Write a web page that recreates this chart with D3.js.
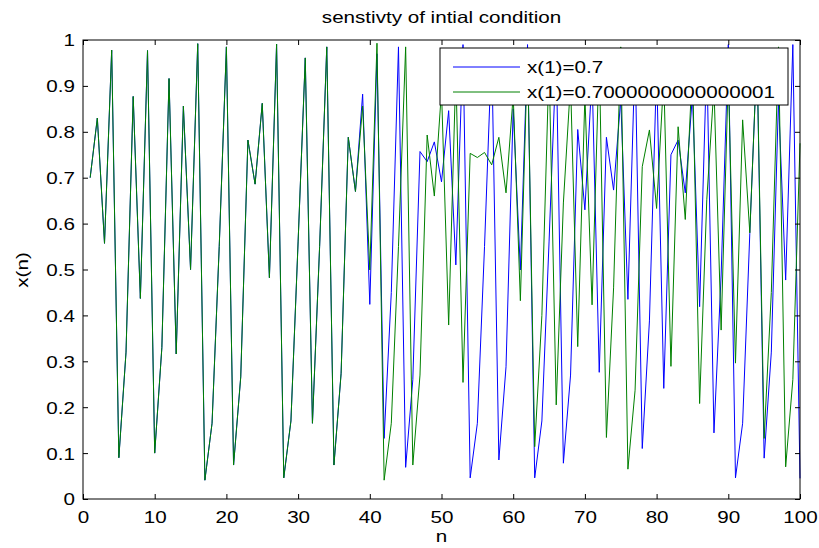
<!DOCTYPE html>
<html>
<head>
<meta charset="utf-8">
<script src="https://cdn.jsdelivr.net/npm/d3@7"></script>
<style>
  html, body { margin: 0; padding: 0; background: #fff; }
  svg text { font-family: "Liberation Sans", Arial, Helvetica, sans-serif; font-size: 16.5px; fill: #000; }
</style>
</head>
<body>
<svg id="chart" width="819" height="548"></svg>
<script>
// values, n = 1..100
const seriesA = [
  0.70, 0.83, 0.557, 0.978, 0.090, 0.32, 0.877, 0.437, 0.977, 0.100,
  0.33, 0.916, 0.316, 0.856, 0.500, 0.992, 0.041, 0.165, 0.55, 0.985,
  0.074, 0.266, 0.782, 0.686, 0.862, 0.482, 0.991, 0.046, 0.17, 0.56,
  0.961, 0.165, 0.55, 0.985, 0.074, 0.274, 0.788, 0.670, 0.882, 0.424,
  0.97, 0.132, 0.45, 0.985, 0.069, 0.26, 0.757, 0.735, 0.778, 0.691,
  0.846, 0.510, 0.99, 0.046, 0.165, 0.55, 0.98, 0.085, 0.288, 0.85,
  0.499, 0.99, 0.046, 0.17, 0.56, 0.97, 0.078, 0.27, 0.805, 0.630,
  0.923, 0.276, 0.788, 0.673, 0.871, 0.435, 0.97, 0.110, 0.388, 0.94,
  0.241, 0.75, 0.782, 0.667, 0.88, 0.419, 0.964, 0.144, 0.488, 0.99,
  0.046, 0.165, 0.579, 0.97, 0.089, 0.32, 0.87, 0.477, 0.99, 0.045
];
const seriesB = [
  0.70, 0.83, 0.557, 0.978, 0.090, 0.32, 0.877, 0.437, 0.977, 0.100,
  0.33, 0.916, 0.316, 0.856, 0.500, 0.992, 0.041, 0.165, 0.55, 0.985,
  0.074, 0.266, 0.782, 0.686, 0.862, 0.482, 0.991, 0.046, 0.17, 0.56,
  0.961, 0.165, 0.55, 0.985, 0.074, 0.274, 0.788, 0.670, 0.856, 0.499,
  0.993, 0.041, 0.165, 0.55, 0.985, 0.074, 0.27, 0.793, 0.660, 0.89,
  0.379, 0.932, 0.254, 0.753, 0.744, 0.755, 0.728, 0.788, 0.667, 0.88,
  0.432, 0.972, 0.114, 0.40, 0.95, 0.205, 0.645, 0.907, 0.332, 0.878,
  0.423, 0.967, 0.134, 0.46, 0.985, 0.065, 0.237, 0.724, 0.804, 0.633,
  0.92, 0.289, 0.811, 0.609, 0.943, 0.208, 0.652, 0.898, 0.368, 0.921,
  0.296, 0.826, 0.58, 0.97, 0.132, 0.45, 0.985, 0.070, 0.26, 0.775
];
const seriesNames = ["x(1)=0.7", "x(1)=0.7000000000000001"];
const seriesColors = ["#0000ff", "#008000"];
const xTicks = [0, 10, 20, 30, 40, 50, 60, 70, 80, 90, 100];
const yTicks = [0, 0.1, 0.2, 0.3, 0.4, 0.5, 0.6, 0.7, 0.8, 0.9, 1];
const yTickLabels = ["0", "0.1", "0.2", "0.3", "0.4", "0.5", "0.6", "0.7", "0.8", "0.9", "1"];

const stretch = 1.25; // text in the picture is wider than its height suggests

const plotLeft = 83, plotRight = 800, plotTop = 40, plotBottom = 499;

const svg = d3.select("#chart");

const x = d3.scaleLinear().domain([0, 100]).range([plotLeft, plotRight]);
const y = d3.scaleLinear().domain([0, 1]).range([plotBottom, plotTop]);

// lines, blue first then green on top
const line = d3.line()
  .x((d, i) => x(i + 1))
  .y(d => y(d));

[seriesA, seriesB].forEach((s, k) => {
  svg.append("path")
    .datum(s)
    .attr("fill", "none")
    .attr("stroke", seriesColors[k])
    .attr("stroke-width", 1)
    .attr("d", line);
});

// axes, ticks pointing inwards on all four sides
const gx = svg.append("g")
  .attr("transform", `translate(0,${plotBottom})`)
  .call(d3.axisBottom(x).tickValues(xTicks).tickSize(-5).tickSizeOuter(0).tickPadding(10));
gx.selectAll("text").attr("y", 24).attr("dy", null)
  .attr("transform", `scale(${stretch},1)`);

const gy = svg.append("g")
  .attr("transform", `translate(${plotLeft},0)`)
  .call(d3.axisLeft(y).tickValues(yTicks).tickSize(-5).tickSizeOuter(0)
    .tickFormat((d, i) => yTickLabels[i]));
gy.selectAll("text").attr("x", -8 / stretch).attr("dy", "0.36em")
  .attr("transform", `scale(${stretch},1)`);

svg.append("g")
  .attr("transform", `translate(0,${plotTop})`)
  .call(d3.axisTop(x).tickValues(xTicks).tickSize(-5).tickSizeOuter(0).tickFormat(""));
svg.append("g")
  .attr("transform", `translate(${plotRight},0)`)
  .call(d3.axisRight(y).tickValues(yTicks).tickSize(-5).tickSizeOuter(0).tickFormat(""));

svg.selectAll(".domain").remove();
svg.selectAll(".tick line").attr("stroke", "#000");

svg.append("rect")
  .attr("x", plotLeft).attr("y", plotTop)
  .attr("width", plotRight - plotLeft).attr("height", plotBottom - plotTop)
  .attr("fill", "none").attr("stroke", "#000").attr("stroke-width", 1);

// titles
function label(tx, ty, txt, rotate) {
  svg.append("g")
    .attr("transform", `translate(${tx},${ty})` + (rotate ? " rotate(-90)" : ""))
    .append("text")
    .attr("text-anchor", "middle")
    .attr("transform", `scale(${stretch},1)`)
    .text(txt);
}
label((plotLeft + plotRight) / 2, 23, "senstivty of intial condition");
label((plotLeft + plotRight) / 2, 542, "n");
label(28, 270, "x(n)", true);

// legend
const legend = svg.append("g");
legend.append("rect")
  .attr("x", 440).attr("y", 48).attr("width", 348).attr("height", 57)
  .attr("fill", "#fff").attr("stroke", "#000").attr("stroke-width", 1);
seriesNames.forEach((name, k) => {
  const ly = 67 + k * 25;
  legend.append("line")
    .attr("x1", 453).attr("x2", 520).attr("y1", ly).attr("y2", ly)
    .attr("stroke", seriesColors[k]).attr("stroke-width", 1);
  legend.append("g")
    .attr("transform", `translate(527,${ly + 6})`)
    .append("text")
    .attr("transform", `scale(${stretch},1)`)
    .text(name);
});
</script>
</body>
</html>
